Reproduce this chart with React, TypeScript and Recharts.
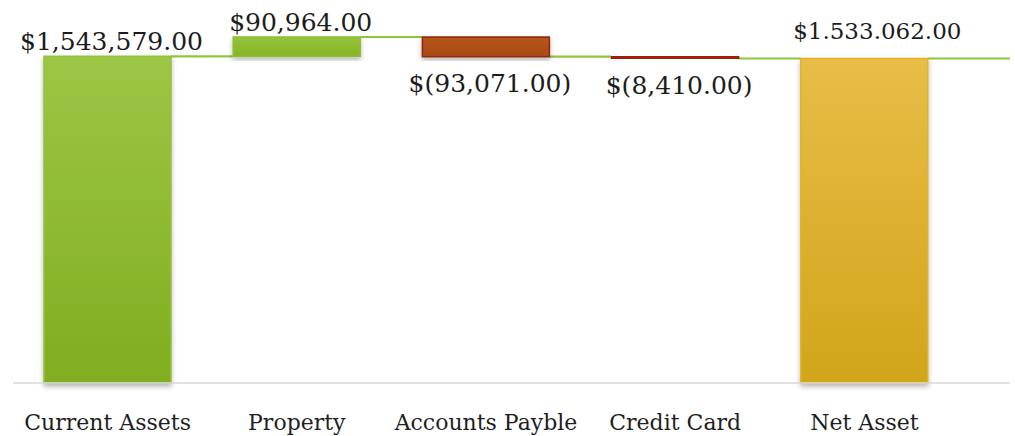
import React from "react";
import {
  ComposedChart,
  Bar,
  XAxis,
  YAxis,
  Cell,
  LabelList,
} from "recharts";

const CATEGORIES = ["Current Assets", "Property", "Accounts Payble", "Credit Card", "Net Asset"];
const AMOUNTS = [1543579, 90964, -93071, -8410, 1533062];
const KINDS = ["total", "step", "step", "step", "total"];
const VALUE_LABELS = ["$1,543,579.00", "$90,964.00", "$(93,071.00)", "$(8,410.00)", "$1.533.062.00"];

const CHART_W = 1015;
const CHART_H = 436;
const MARGIN = { top: 2, right: 5, bottom: 0, left: 13 };
const PAD_RIGHT = 51;
const BAND = (CHART_W - MARGIN.left - MARGIN.right - PAD_RIGHT) / CATEGORIES.length;
const FONT = "'DejaVu Serif', 'Liberation Serif', serif";

// running totals -> [low, high] ranges for the waterfall
let running = 0;
const data = CATEGORIES.map((name, i) => {
  let low: number;
  let high: number;
  if (KINDS[i] === "total") {
    running = AMOUNTS[i];
    low = 0;
    high = AMOUNTS[i];
  } else {
    const prev = running;
    running += AMOUNTS[i];
    low = Math.min(prev, running);
    high = Math.max(prev, running);
  }
  return { name, range: [low, high], label: VALUE_LABELS[i], amount: AMOUNTS[i], kind: KINDS[i] };
});

const fills = ["url(#gGreen)", "url(#gGreen2)", "url(#gRust)", "url(#gRed)", "url(#gGold)"];
const strokes = ["#93c23a", "#8dbf2e", "#8e2a0e", "#9c1c0c", "#e2b326"];

// bar + connector to the next bar at the running-total level
const WaterfallBar = (props: any) => {
  const { x, y, width, height, index } = props;
  const top = Math.min(y, y + height);
  const h = Math.abs(height);
  const d = data[index];
  const levelY = d.amount >= 0 ? top : top + h;
  const last = index === data.length - 1;
  const x2 = last ? CHART_W - MARGIN.right : x + BAND;
  return (
    <g>
      <line x1={x + width} y1={levelY} x2={x2} y2={levelY} stroke="#8fc63c" strokeWidth={2.2} />
      <rect
        x={x}
        y={top}
        width={width}
        height={h}
        fill={fills[index]}
        stroke={strokes[index]}
        strokeWidth={1.5}
        filter="url(#shadow)"
      />
    </g>
  );
};

const ValueLabel = (props: any) => {
  const { x, y, width, height, index } = props;
  const d = data[index];
  const top = Math.min(y, y + height);
  const bottom = Math.max(y, y + height);
  let cx = x + width / 2 + 4;
  let ty: number;
  let size = 25;
  if (d.kind === "total" && index > 0) {
    ty = top - 20;
    size = 23;
    cx += 9;
  } else if (d.amount >= 0) {
    ty = top - 6;
  } else {
    ty = bottom + 35;
  }
  return (
    <text x={cx} y={ty} textAnchor="middle" fontFamily={FONT} fontSize={size} fill="#1c1c1c">
      {d.label}
    </text>
  );
};

export default function App() {
  return (
    <div>
      <style>{`body{margin:0;background:#fff}`}</style>
      <ComposedChart width={CHART_W} height={CHART_H} data={data} margin={MARGIN}>
        <defs>
          <linearGradient id="gGreen" x1="0" y1="0" x2="0" y2="1">
            <stop offset="0%" stopColor="#9dc645" />
            <stop offset="100%" stopColor="#80ad20" />
          </linearGradient>
          <linearGradient id="gGreen2" x1="0" y1="0" x2="0" y2="1">
            <stop offset="0%" stopColor="#96c43a" />
            <stop offset="100%" stopColor="#84b326" />
          </linearGradient>
          <linearGradient id="gRust" x1="0" y1="0" x2="0" y2="1">
            <stop offset="0%" stopColor="#b65515" />
            <stop offset="100%" stopColor="#ab4a14" />
          </linearGradient>
          <linearGradient id="gRed" x1="0" y1="0" x2="0" y2="1">
            <stop offset="0%" stopColor="#b63a14" />
            <stop offset="100%" stopColor="#a82c10" />
          </linearGradient>
          <linearGradient id="gGold" x1="0" y1="0" x2="0" y2="1">
            <stop offset="0%" stopColor="#e7bd47" />
            <stop offset="100%" stopColor="#d1a51b" />
          </linearGradient>
          <filter id="shadow" x="-10%" y="-10%" width="120%" height="130%">
            <feDropShadow dx="0" dy="3" stdDeviation="2.5" floodColor="#000" floodOpacity="0.28" />
          </filter>
        </defs>
        <XAxis
          dataKey="name"
          interval={0}
          height={53}
          padding={{ left: 0, right: PAD_RIGHT }}
          axisLine={{ stroke: "#d9d9d9", strokeWidth: 1.5 }}
          tickLine={false}
          tickSize={0}
          tickMargin={31}
          tick={{ fontFamily: FONT, fontSize: 22, fill: "#1f1f1f" }}
        />
        <YAxis hide domain={[0, 1800000]} />
        <Bar dataKey="range" barSize={127} isAnimationActive={false} shape={WaterfallBar}>
          {data.map((d) => (
            <Cell key={d.name} />
          ))}
          <LabelList dataKey="label" content={ValueLabel} />
        </Bar>
      </ComposedChart>
    </div>
  );
}
